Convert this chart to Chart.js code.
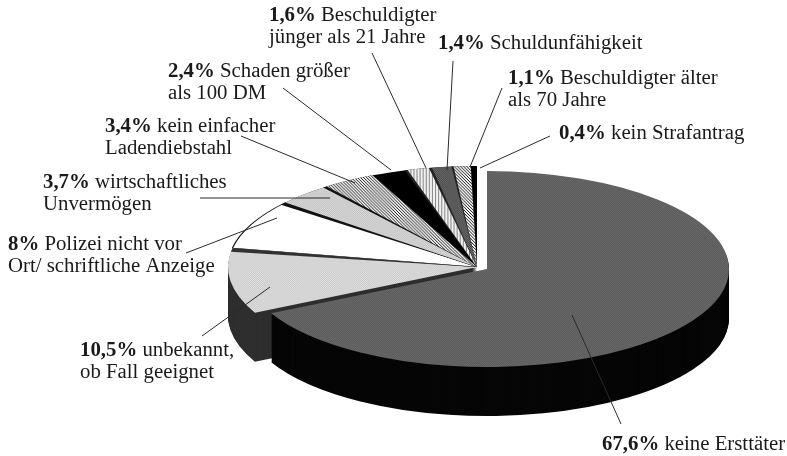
<!DOCTYPE html>
<html><head><meta charset="utf-8">
<style>html,body{margin:0;padding:0;background:#fff}canvas{display:block;filter:blur(0.45px)}</style>
<script src="https://cdn.jsdelivr.net/npm/chart.js@4"></script></head>
<body><canvas id="c" width="787" height="456"></canvas>
<script>
const categories=["keine Ersttäter","unbekannt, ob Fall geeignet","Polizei nicht vor Ort/ schriftliche Anzeige","wirtschaftliches Unvermögen","kein einfacher Ladendiebstahl","Schaden größer als 100 DM","Beschuldigter jünger als 21 Jahre","Schuldunfähigkeit","Beschuldigter älter als 70 Jahre","kein Strafantrag"];
const values=[67.6,10.5,8,3.7,3.4,2.4,1.6,1.4,1.1,0.4];
const percentLabels=["67,6%","10,5%","8%","3,7%","3,4%","2,4%","1,6%","1,4%","1,1%","0,4%"];
const firstLines=["keine Ersttäter","unbekannt,","Polizei nicht vor","wirtschaftliches","kein einfacher","Schaden größer","Beschuldigter","Schuldunfähigkeit","Beschuldigter älter","kein Strafantrag"];
const secondLines=["","ob Fall geeignet","Ort/ schriftliche Anzeige","Unvermögen","Ladendiebstahl","als 100 DM","jünger als 21 Jahre","","als 70 Jahre",""];

// layout of the annotations: [x, baseline of first line]
const labelAt=[[602,450],[80,356],[8,250],[43,188],[105,132],[168,77],[269,21],[438,49],[508,84],[559,139]];
const leaders=[[572,315,621,424],[202,336,270,287],[186,253,277,218],[200,198,330,198],[241,136,355,183],[283,88,391,170],[372,53,426,168],[453,61,447,170],[502,88,470,167],[550,136,480,168]];
const lineGap=22;
const mainPie={x:487,y:269,rx:242,ry:98};
const restPie={x:477,y:267,rx:249,ry:101};
const depth=49;
const bandDeg=[0,0,2.2,1.6,1.1,0,0.7,0.7,0.5,0];

function pat(a,b,kind){
  const n=kind==='diag'?3:kind==='vert'?3:2;
  const c=document.createElement('canvas');c.width=c.height=n;
  const g=c.getContext('2d');g.fillStyle=a;g.fillRect(0,0,n,n);g.fillStyle=b;
  if(kind==='check'){g.fillRect(0,0,1,1);g.fillRect(1,1,1,1);}
  if(kind==='vert'){g.fillRect(0,0,1,n);}
  if(kind==='diag'){for(let i=0;i<n;i++){g.fillRect(i,i,1,1);}}
  return document.getElementById('c').getContext('2d').createPattern(c,'repeat');
}
const fills=[pat('#7a7a7a','#4a4a4a','check'),pat('#e6e6e6','#c4c4c4','check'),'#ffffff',pat('#e0e0e0','#bcbcbc','check'),pat('#f4f4f4','#222222','diag'),'#000000',pat('#f0f0f0','#888888','vert'),pat('#757575','#404040','check'),pat('#ffffff','#111111','diag'),'#000000'];
const wallMain='#060606';
const wallLight='#2e2e2e';
const bandCol=['#000','#000','#333','#111','#111','#000','#222','#222','#222','#000'];

const pie3d={id:'pie3d',
 beforeDatasetsDraw(chart){
  const ctx=chart.ctx,arcs=chart.getDatasetMeta(0).data;
  const put=(arc,p,dy)=>{ctx.translate(p.x,p.y+dy);ctx.scale(p.rx/arc.outerRadius,p.ry/arc.outerRadius);ctx.translate(-arc.x,-arc.y);};
  const paint=(arc,p,dy,fill,extra,bw)=>{
    const op=arc.options,sa=arc.startAngle,ca=arc.circumference;
    arc.options=Object.assign({},op,{backgroundColor:fill,borderWidth:bw||0,borderColor:'#111'});
    if(extra){arc.startAngle=sa-extra;arc.circumference=ca+extra;}
    ctx.save();put(arc,p,dy);arc.draw(ctx);ctx.restore();
    arc.options=op;arc.startAngle=sa;arc.circumference=ca;
  };
  const R=arcs[0].outerRadius;
  fills.forEach(f=>{if(f instanceof CanvasPattern)f.setTransform(new DOMMatrix([R/mainPie.rx,0,0,R/mainPie.ry,0,0]));});
  for(let d=depth;d>0;d--)paint(arcs[1],restPie,d,wallLight);
  for(let i=1;i<arcs.length;i++){
    if(bandDeg[i])paint(arcs[i],restPie,0,bandCol[i],bandDeg[i]*Math.PI/180);
    paint(arcs[i],restPie,0,fills[i],0,i===2?1.1:0);
  }
  for(let d=depth;d>0;d--)paint(arcs[0],mainPie,d,wallMain);
  paint(arcs[0],mainPie,0,fills[0]);
  return false;
 },
 afterDraw(chart){
  const ctx=chart.ctx;ctx.save();
  ctx.strokeStyle='#2a2a2a';ctx.lineWidth=1;
  leaders.forEach(l=>{ctx.beginPath();ctx.moveTo(l[0],l[1]);ctx.lineTo(l[2],l[3]);ctx.stroke();});
  ctx.fillStyle='#1a1a1a';ctx.textBaseline='alphabetic';ctx.textAlign='left';
  labelAt.forEach((p,i)=>{
    ctx.font='bold 20.8px "Liberation Serif"';
    ctx.fillText(percentLabels[i],p[0],p[1]);
    const w=ctx.measureText(percentLabels[i]+' ').width;
    ctx.font='20.8px "Liberation Serif"';
    ctx.fillText(firstLines[i],p[0]+w,p[1]);
    if(secondLines[i])ctx.fillText(secondLines[i],p[0],p[1]+lineGap);
  });
  ctx.restore();
 }};

new Chart(document.getElementById('c'),{type:'pie',
 data:{labels:categories,datasets:[{data:values,backgroundColor:fills,borderWidth:0}]},
 options:{responsive:false,animation:false,events:[],rotation:0,layout:{padding:20},
  plugins:{legend:{display:false},tooltip:{enabled:false}}},
 plugins:[pie3d]});
</script></body></html>
